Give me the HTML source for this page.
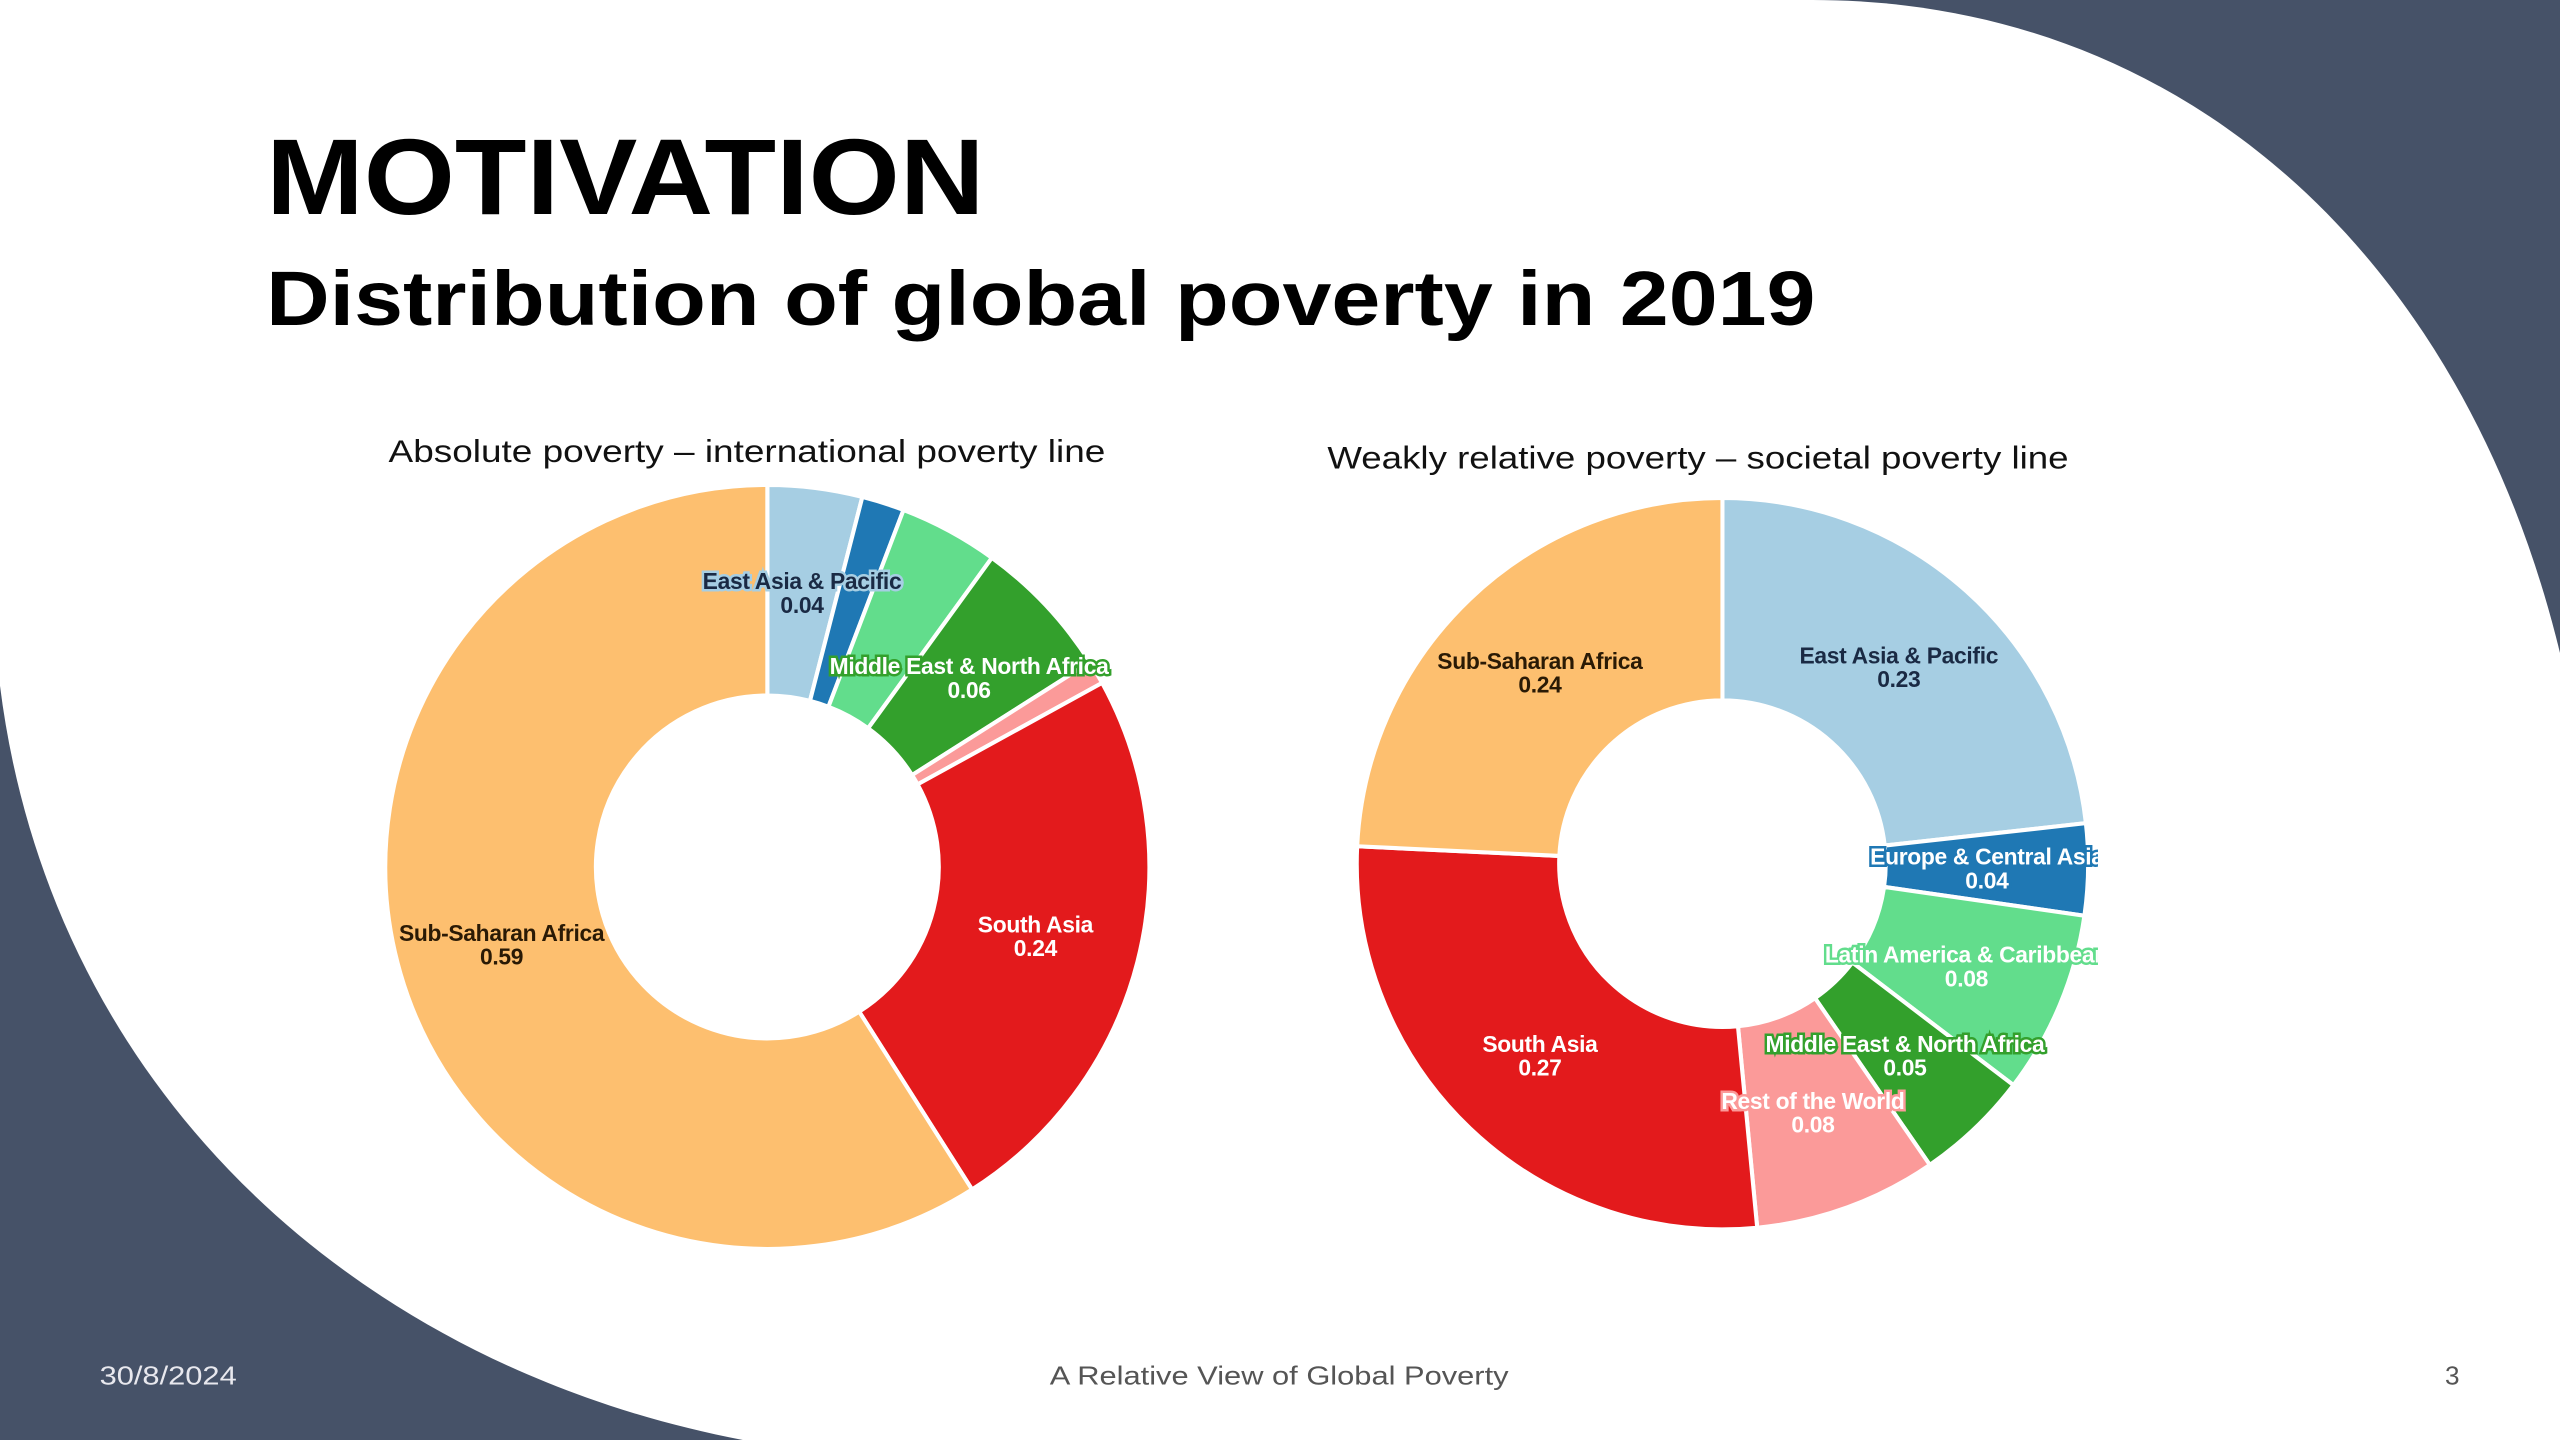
<!DOCTYPE html>
<html><head><meta charset="utf-8"><style>
html,body{margin:0;padding:0;width:2560px;height:1440px;overflow:hidden;background:#fff}
svg{display:block}
text{font-family:"Liberation Sans",sans-serif}
</style></head><body>
<svg id="page" width="2560" height="1440" viewBox="0 0 1568 882" preserveAspectRatio="none">
  <rect x="0" y="0" width="1568" height="882" fill="#465268"/>
  <path d="M0,0 L1110,0 C1340,0 1510,160 1568,400 L1568,882 L455,882 C210,835 30,660 0,420 Z" fill="#ffffff"/>
  <text x="163" y="131" font-size="66" font-weight="bold" fill="#000" textLength="440" lengthAdjust="spacingAndGlyphs">MOTIVATION</text>
  <text x="163" y="199" font-size="47" font-weight="bold" fill="#000" textLength="949" lengthAdjust="spacingAndGlyphs">Distribution of global poverty in 2019</text>
  <text x="238" y="283" font-size="19.5" fill="#111" textLength="439" lengthAdjust="spacingAndGlyphs">Absolute poverty – international poverty line</text>
  <text x="813" y="287" font-size="19.5" fill="#111" textLength="454" lengthAdjust="spacingAndGlyphs">Weakly relative poverty – societal poverty line</text>
  <g id="left"></g>
  <defs><clipPath id="rclip"><rect x="800" y="290" width="485" height="480"/></clipPath></defs>
  <g id="right" clip-path="url(#rclip)"></g>
  <text x="61" y="848" font-size="16" fill="#e8e8ee" textLength="84" lengthAdjust="spacingAndGlyphs">30/8/2024</text>
  <text x="643" y="848" font-size="16" fill="#555" textLength="281" lengthAdjust="spacingAndGlyphs">A Relative View of Global Poverty</text>
  <text x="1502" y="848" font-size="16" text-anchor="middle" fill="#555">3</text>
</svg>
<script>
const regions = ["East Asia & Pacific","Europe & Central Asia","Latin America & Caribbean","Middle East & North Africa","Rest of the World","South Asia","Sub-Saharan Africa"];
const colors = ["#a6cee3","#1f78b4","#62dd8c","#33a02c","#fb9a99","#e31a1c","#fdbf6f"];
const textColors = ["#1a2a44","#fff","#fff","#fff","#fff","#fff","#2a1a05"];
const absoluteValues = [0.04,0.018,0.042,0.06,0.01,0.24,0.59];
const absoluteLabels = [true,false,false,true,false,true,true];
const relativeValues = [0.23,0.04,0.08,0.05,0.08,0.27,0.24];
const relativeLabels = [true,true,true,true,true,true,true];
const NS="http://www.w3.org/2000/svg";
function angleOf(frac){return frac*2*Math.PI;}
function pt(cx,cy,rad,a){return [cx+rad*Math.sin(a), cy-rad*Math.cos(a)];}
function donut(g,vals,show,cx,cy,R,r,prefix){
  const total=vals.reduce((a,b)=>a+b,0);
  let cum=0;
  vals.forEach((v,i)=>{
    const a0=angleOf(cum/total), a1=angleOf((cum+v)/total); cum+=v;
    const big=(a1-a0)>Math.PI?1:0;
    const p0=pt(cx,cy,R,a0),p1=pt(cx,cy,R,a1),q1=pt(cx,cy,r,a1),q0=pt(cx,cy,r,a0);
    const path=document.createElementNS(NS,'path');
    path.setAttribute('d',`M${p0[0]},${p0[1]} A${R},${R} 0 ${big} 1 ${p1[0]},${p1[1]} L${q1[0]},${q1[1]} A${r},${r} 0 ${big} 0 ${q0[0]},${q0[1]} Z`);
    path.setAttribute('fill',colors[i]);path.setAttribute('stroke','#fff');path.setAttribute('stroke-width','2.5');path.setAttribute('stroke-linejoin','round');
    
    
    g.appendChild(path);
  });
  cum=0;
  vals.forEach((v,i)=>{
    const am=angleOf((cum+v/2)/total); cum+=v;
    if(!show[i])return;
    const c=pt(cx,cy,(R+r)/2,am);
    [regions[i], (Math.round(v*100)/100).toFixed(2)].forEach((s,k)=>{
      const t=document.createElementNS(NS,'text');
      t.setAttribute('x',c[0]);t.setAttribute('y',c[1]-2+k*14.5);
      t.setAttribute('text-anchor','middle');t.setAttribute('font-size','14');t.setAttribute('font-weight','bold');
      t.setAttribute('fill',textColors[i]);t.setAttribute('stroke',colors[i]);t.setAttribute('stroke-width','3');t.setAttribute('paint-order','stroke');
      t.setAttribute('letter-spacing','-0.2');
      t.textContent=s;
      
      
      g.appendChild(t);
    });
  });
}
donut(document.getElementById('left'),absoluteValues,absoluteLabels,470,531,234,105,'absolute');
donut(document.getElementById('right'),relativeValues,relativeLabels,1055,529,224,100,'relative');
</script>
</body></html>
